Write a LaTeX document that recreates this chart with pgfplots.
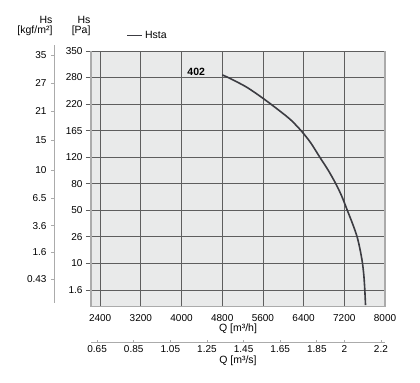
\documentclass[border=0pt]{standalone}
\usepackage{pgfplots}
\pgfplotsset{compat=1.18}
\usepackage{fontspec}
\setmainfont{Liberation Sans}
\definecolor{bgray}{HTML}{E9EAEA}
\definecolor{gridc}{HTML}{5E5E5E}
\definecolor{axc}{HTML}{ABABAB}
\definecolor{curvec}{HTML}{3C3C42}
\begin{document}
\begin{tikzpicture}
\useasboundingbox (0,0) rectangle (420bp,383bp);
% kgf/m2 axis
\begin{axis}[
  at={(54bp,80bp)}, anchor=south west, scale only axis,
  width=1bp, height=258bp,
  xmin=0, xmax=1, ymin=-0.49, ymax=9.23,
  axis x line=none, axis y line=left,
  y axis line style={draw=axc, line width=1bp, -},
  ytick={0.41,1.42,2.42,3.45,4.52,5.65,6.74,7.79,8.85},
  yticklabels={0.43,1.6,3.6,6.5,10,15,21,27,35},
  tick align=outside, major tick length=3bp,
  ytick style={draw=axc, line width=0.8bp},
  yticklabel style={font=\fontsize{10bp}{12bp}\selectfont, xshift=-1bp},
  /pgf/number format/assume math mode=true,
]
\end{axis}
% main axis
\begin{axis}[
  at={(91bp,76.3bp)}, anchor=south west, scale only axis,
  width=294bp, height=255.7bp,
  xmin=2220, xmax=8000, ymin=-0.63, ymax=9,
  axis x line=bottom, axis y line=box,
  x axis line style={draw=axc, line width=1bp, -},
  y axis line style={draw=axc, line width=1.5bp, -},
  axis background/.style={fill=bgray},
  xtick={2400,3200,4000,4800,5600,6400,7200,8000},
  xticklabels={2400,3200,4000,4800,5600,6400,7200,8000},
  ytick={0,1,2,3,4,5,6,7,8,9},
  yticklabels={1.6,10,26,50,80,120,165,220,280,350},
  grid=major,
  major grid style={draw=gridc, line width=0.8bp},
  tick align=outside, major tick length=5bp,
  xtick style={draw=none},
  ytick style={draw=gridc, line width=0.8bp},
  ytick pos=left,
  ticklabel style={font=\fontsize{10bp}{12bp}\selectfont},
  xticklabel style={yshift=1bp},
  /pgf/number format/assume math mode=true,
  xlabel={Q [m³/h]},
  xlabel style={font=\fontsize{10.5bp}{12bp}\selectfont, yshift=4bp},
  legend style={at={(0.12,1.06)}, anchor=west, draw=none, fill=none,
    font=\fontsize{10.5bp}{12bp}\selectfont, inner sep=0pt},
  legend image code/.code={\draw[#1] (0bp,0bp) -- (15bp,0bp);},
  clip=false,
]
\addplot[curvec, line width=1.6bp, smooth, tension=0.5] coordinates {
 (4800,8.10) (4950,7.97) (5278,7.64) (5600,7.22) (5932,6.74) (6150,6.40)
 (6359,5.98) (6540,5.54) (6718,5.00) (6880,4.52) (7033,4.00) (7150,3.53)
 (7259,3.00) (7365,2.48) (7452,2.00) (7512,1.50) (7558,1.00) (7586,0.50)
 (7603,0.00) (7617,-0.57)
};
\addlegendentry{Hsta}
\node[anchor=east, font=\fontsize{10.5bp}{12bp}\selectfont\bfseries] at (axis cs:4530,8.22) {402};
\end{axis}
% m3/s axis
\begin{axis}[
  at={(91bp,41bp)}, anchor=south west, scale only axis,
  width=294bp, height=1bp,
  xmin=0.6167, xmax=2.2222, ymin=0, ymax=1,
  axis y line=none, axis x line=bottom,
  x axis line style={draw=axc, line width=1bp, -},
  xtick={0.65,0.85,1.05,1.25,1.45,1.65,1.85,2,2.2},
  xticklabels={0.65,0.85,1.05,1.25,1.45,1.65,1.85,2,2.2},
  tick align=inside, major tick length=2bp,
  xtick style={draw=axc, line width=0.8bp},
  ticklabel style={font=\fontsize{10bp}{12bp}\selectfont},
  /pgf/number format/assume math mode=true,
  xlabel={Q [m³/s]},
  xlabel style={font=\fontsize{10.5bp}{12bp}\selectfont, yshift=4bp},
]
\end{axis}
\node[anchor=south east, align=right, font=\fontsize{10.5bp}{11bp}\selectfont] at (56bp,344bp) {Hs\\[-1bp][kgf/m²]};
\node[anchor=south east, align=right, font=\fontsize{10.5bp}{11bp}\selectfont] at (94bp,344bp) {Hs\\[-1bp][Pa]};
\end{tikzpicture}
\end{document}
